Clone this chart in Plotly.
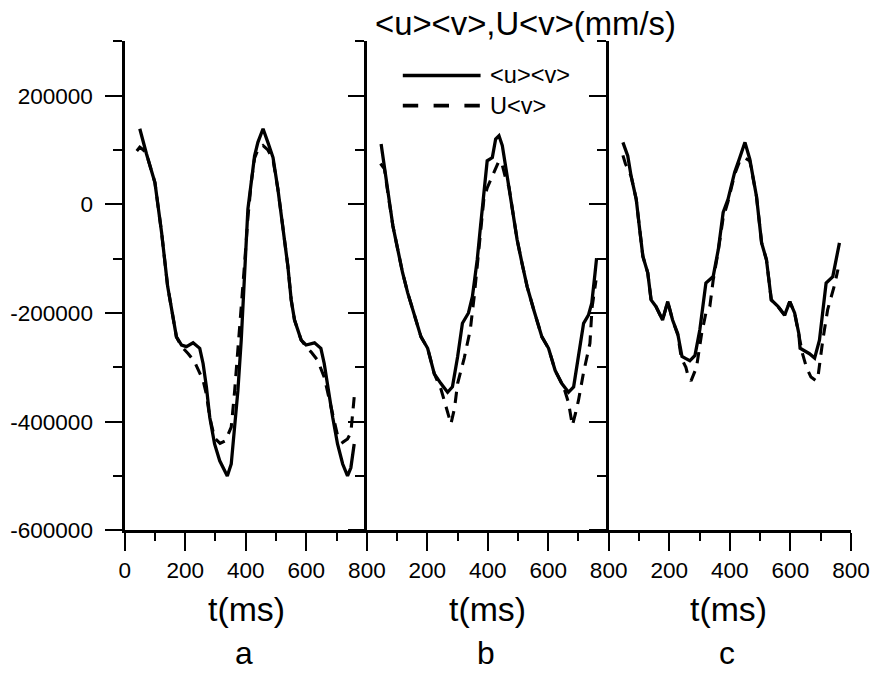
import plotly.graph_objects as go

# ---------------- data ----------------
t_a_uv = [50, 59, 72, 100, 122, 142, 155, 171, 188, 204, 226, 248, 259, 270, 281, 297, 314, 339,
          352, 363, 374, 385, 393, 400, 407, 418, 429, 440, 457, 473, 490, 506, 522, 539, 550,
          561, 583, 599, 627, 648, 659, 670, 687, 703, 720, 736, 747, 758]
v_a_uv = [139000, 120000, 93000, 40000, -52000, -151000, -194000, -244000, -259000, -262000,
          -255000, -265000, -293000, -336000, -392000, -441000, -472000, -500000,
          -478000, -417000, -343000, -250000, -157000, -77000, -9000, 40000, 89000, 114000,
          139000, 114000, 86000, 28000, -40000, -114000, -176000,
          -213000, -250000, -259000, -255000, -265000, -293000, -336000, -392000, -441000,
          -478000, -500000, -485000, -441000]

t_a_Uv = [40, 50, 62, 72, 100, 122, 142, 155, 171, 188, 210, 231, 259, 270, 281, 297, 315, 333,
          352, 363, 374, 385, 396, 407, 418, 429, 440, 457, 473, 490, 506, 522, 539, 550, 561,
          583, 599, 616, 637, 659, 670, 687, 703, 720, 736, 747, 758]
v_a_Uv = [98000, 105000, 100000, 93000, 40000, -52000, -151000, -194000, -244000, -262000,
          -275000, -290000, -324000, -350000, -392000, -430000, -440000, -435000,
          -410000, -345000, -270000, -190000, -110000, -25000, 40000, 85000, 100000, 108000,
          100000, 82000, 28000, -40000, -114000, -176000, -213000,
          -250000, -262000, -272000, -287000, -318000, -345000, -392000, -425000, -438000,
          -432000, -420000, -355000]

t_b_uv = [47, 58, 69, 86, 102, 118, 135, 151, 179, 201, 223, 245, 267, 283, 300, 316, 336, 349,
          365, 376, 387, 398, 415, 426, 437, 448, 464, 481, 497, 513, 530, 552, 579, 601, 623,
          645, 667, 684, 700, 717, 733, 744, 755, 760]
v_b_uv = [111000, 71000, 22000, -40000, -83000, -126000, -163000, -194000, -244000, -265000,
          -312000, -330000, -346000, -336000, -281000, -219000, -200000, -170000,
          -102000, -40000, 28000, 80000, 86000, 120000, 126000, 108000, 52000, -9000, -65000,
          -108000, -151000, -194000, -244000, -265000, -306000,
          -330000, -346000, -336000, -281000, -219000, -204000, -182000, -126000, -99000]

t_b_Uv = [45, 58, 69, 86, 102, 118, 135, 151, 179, 201, 223, 245, 256, 268, 278, 290, 300, 322,
          342, 355, 365, 376, 387, 398, 408, 420, 437, 448, 458, 470, 481, 497, 513, 530, 552,
          579, 601, 623, 645, 656, 667, 680, 690, 700, 717, 738, 745, 752, 758]
v_b_Uv = [75000, 65000, 22000, -40000, -83000, -126000, -163000, -194000, -244000, -265000,
          -312000, -340000, -361000, -385000, -404000, -375000, -330000, -283000,
          -231000, -170000, -110000, -45000, 10000, 30000, 43000, 60000, 80000, 72000, 50000,
          32000, -9000, -65000, -108000, -151000, -194000,
          -244000, -265000, -306000, -330000, -345000, -365000, -407000, -385000, -361000,
          -309000, -256000, -190000, -160000, -140000]

t_c_uv = [47, 63, 74, 91, 101, 113, 129, 140, 156, 178, 195, 211, 228, 236, 242, 255, 268, 285,
          301, 321, 345, 362, 378, 394, 416, 433, 450, 466, 488, 505, 521, 537, 559, 581, 598,
          614, 628, 632, 663, 680, 696, 718, 740, 762]
v_c_uv = [114000, 89000, 52000, 9000, -40000, -96000, -126000, -176000, -188000, -213000,
          -179000, -213000, -238000, -265000, -280000, -284000, -288000, -278000,
          -231000, -145000, -133000, -83000, -15000, 9000, 59000, 86000, 114000, 83000, 15000,
          -71000, -102000, -176000, -188000, -204000, -179000,
          -200000, -238000, -265000, -275000, -283000, -250000, -145000, -133000, -71000]

t_c_Uv = [47, 55, 74, 91, 101, 113, 129, 140, 156, 178, 195, 211, 228, 240, 255, 263, 272, 283,
          290, 307, 321, 334, 345, 362, 378, 394, 416, 433, 450, 466, 488, 505, 521, 537, 559,
          581, 598, 614, 628, 640, 653, 668, 685, 691, 707, 723, 746, 757]
v_c_Uv = [90000, 75000, 52000, 9000, -40000, -96000, -126000, -176000, -188000, -213000,
          -179000, -213000, -240000, -283000, -300000, -318000, -325000, -310000,
          -300000, -238000, -200000, -188000, -140000, -85000, -25000, 5000, 55000, 80000,
          85000, 80000, 15000, -71000, -102000, -176000, -188000,
          -204000, -179000, -200000, -240000, -275000, -300000, -318000, -325000, -318000,
          -250000, -194000, -148000, -120000]

x_tick_vals = [0, 200, 400, 600, 800]
x_tick_text_first = ["0", "200", "400", "600", "800"]
x_tick_text_other = ["", "200", "400", "600", "800"]
y_tick_vals = [-600000, -400000, -200000, 0, 200000]
y_tick_text = ["-600000", "-400000", "-200000", "0", "200000"]
panel_letters = ["a", "b", "c"]
x_title = "t(ms)"
chart_title = "&lt;u&gt;&lt;v&gt;,U&lt;v&gt;(mm/s)"
legend_names = ["&lt;u&gt;&lt;v&gt;", "U&lt;v&gt;"]

# ---------------- figure ----------------
# The photographed page comes out at ~0.975 of the figure size, so the figure
# is laid out slightly larger; positions below are in target-picture pixels.
S, BX, BY = 0.975, 4.0, 2.0
W, H = round(873 / S), round(673 / S)
FONT = "Liberation Sans, Arial, sans-serif"


def px(x):
    return ((x - BX) / S) / W


def py(y):
    return 1 - ((y - BY) / S) / H


def sz(v):
    return v / S


fig = go.Figure()
series = [
    ("x", "y", t_a_uv, v_a_uv, t_a_Uv, v_a_Uv),
    ("x2", "y2", t_b_uv, v_b_uv, t_b_Uv, v_b_Uv),
    ("x3", "y3", t_c_uv, v_c_uv, t_c_Uv, v_c_Uv),
]
for xa, ya, t1, v1, t2, v2 in series:
    fig.add_trace(go.Scatter(x=t2, y=v2, xaxis=xa, yaxis=ya, mode="lines", name="U<v>",
                             line=dict(color="black", width=sz(3),
                                       dash=f"{sz(11):.1f}px,{sz(8):.1f}px"),
                             showlegend=False))
    fig.add_trace(go.Scatter(x=t1, y=v1, xaxis=xa, yaxis=ya, mode="lines", name="<u><v>",
                             line=dict(color="black", width=sz(3.2)), showlegend=False))

x_domains = [[px(123), px(366)], [px(366), px(608.5)], [px(608.5), px(851.5)]]
y_domain = [py(529), py(43)]

common_x = dict(range=[0, 800], showline=True, linecolor="black", linewidth=sz(2.5),
                ticks="outside", ticklen=sz(17), tickwidth=sz(2), tickcolor="black",
                tickmode="array", tickvals=x_tick_vals, showgrid=False, zeroline=False,
                tickfont=dict(family=FONT, size=sz(22), color="black"),
                ticklabelstandoff=0,
                minor=dict(ticks="outside", ticklen=sz(8), tickwidth=sz(2), tickcolor="black",
                           tickmode="array", tickvals=[100, 300, 500, 700], showgrid=False))
common_y = dict(range=[-600000, 300000], showline=True, linecolor="black", linewidth=sz(2.5),
                ticks="outside", ticklen=sz(16), tickwidth=sz(2), tickcolor="black",
                tickmode="array", tickvals=y_tick_vals, ticktext=y_tick_text,
                showgrid=False, zeroline=False, domain=y_domain,
                tickfont=dict(family=FONT, size=sz(22), color="black"),
                ticklabelstandoff=round(sz(8)),
                minor=dict(ticks="outside", ticklen=sz(9), tickwidth=sz(2), tickcolor="black",
                           tickmode="array", tickvals=[-500000, -300000, -100000, 100000, 300000],
                           showgrid=False))

layout = dict(width=W, height=H, autosize=False, margin=dict(l=0, r=0, t=0, b=0),
              paper_bgcolor="white", plot_bgcolor="rgba(0,0,0,0)", showlegend=False,
              font=dict(family=FONT, color="black"))
for i, (xname, yname) in enumerate([("xaxis", "yaxis"), ("xaxis2", "yaxis2"), ("xaxis3", "yaxis3")]):
    xa = dict(common_x)
    xa["domain"] = x_domains[i]
    xa["anchor"] = "y" if i == 0 else f"y{i+1}"
    xa["ticktext"] = x_tick_text_first if i == 0 else x_tick_text_other
    ya = dict(common_y)
    ya["anchor"] = "x" if i == 0 else f"x{i+1}"
    ya["showticklabels"] = (i == 0)
    layout[xname] = xa
    layout[yname] = ya
fig.update_layout(**layout)

# titles / labels
ann = [dict(text=chart_title, x=px(525), y=py(25), xref="paper", yref="paper",
            xanchor="center", yanchor="middle", showarrow=False,
            font=dict(family=FONT, size=sz(32), color="black"))]
centers = [245, 487, 729]
for c, letter in zip(centers, panel_letters):
    ann.append(dict(text=x_title, x=px(c), y=py(607), xref="paper", yref="paper",
                    xanchor="center", yanchor="middle", showarrow=False,
                    font=dict(family=FONT, size=sz(33), color="black")))
    ann.append(dict(text=letter, x=px(c - 2), y=py(671), xref="paper", yref="paper",
                    xanchor="center", yanchor="bottom", showarrow=False,
                    font=dict(family=FONT, size=sz(31), color="black")))

# manual legend (long sample lines as in the reference)
legend_y = [77, 107]
shapes = [
    dict(type="line", xref="paper", yref="paper", x0=px(402), x1=px(480), y0=py(legend_y[0]),
         y1=py(legend_y[0]), line=dict(color="black", width=sz(3.5))),
    dict(type="line", xref="paper", yref="paper", x0=px(402), x1=px(480), y0=py(legend_y[1]),
         y1=py(legend_y[1]), line=dict(color="black", width=sz(3.5),
                                       dash=f"{sz(15):.1f}px,{sz(15):.1f}px")),
]
for name, ly in zip(legend_names, legend_y):
    ann.append(dict(text=name, x=px(487), y=py(ly), xref="paper", yref="paper",
                    xanchor="left", yanchor="middle", showarrow=False,
                    font=dict(family=FONT, size=sz(23), color="black")))

fig.update_layout(annotations=ann, shapes=shapes)
fig.write_html("out.html")
